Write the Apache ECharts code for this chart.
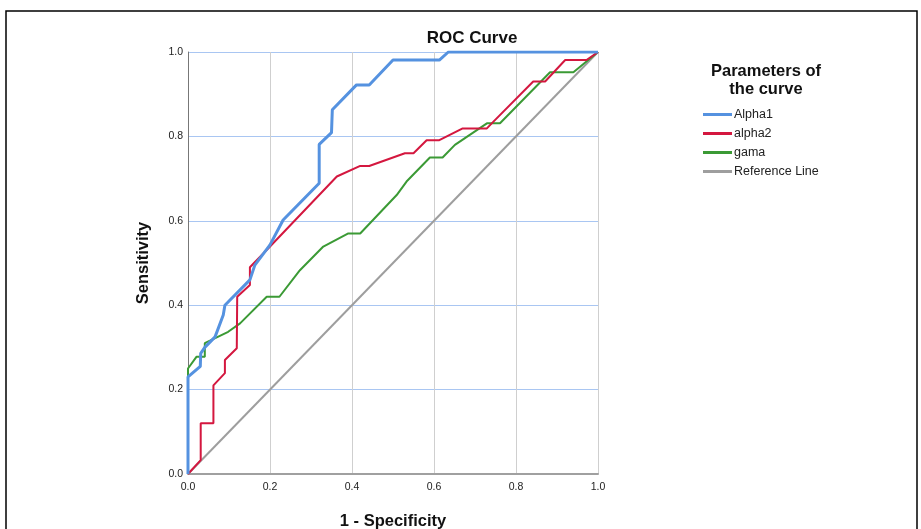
<!DOCTYPE html>
<html>
<head>
<meta charset="utf-8">
<script src="https://cdn.jsdelivr.net/npm/echarts@6/dist/echarts.min.js"></script>
<style>html,body{margin:0;padding:0;background:#fff;overflow:hidden;}#c{width:921px;height:529px;}</style>
</head>
<body>
<div id="c"></div>
<script>
const seriesNames = ['Alpha1', 'alpha2', 'gama', 'Reference Line'];
const alpha1 = [[0,0],[0,0.23],[0.03,0.255],[0.031,0.286],[0.041,0.30],[0.066,0.325],[0.086,0.377],[0.09,0.40],[0.151,0.46],[0.163,0.495],[0.2,0.543],[0.232,0.602],[0.32,0.689],[0.32,0.781],[0.35,0.809],[0.352,0.863],[0.411,0.922],[0.442,0.922],[0.50,0.981],[0.613,0.981],[0.635,1.0],[1,1]];
const alpha2 = [[0,0],[0.031,0.033],[0.031,0.12],[0.062,0.12],[0.062,0.21],[0.09,0.239],[0.09,0.27],[0.119,0.298],[0.12,0.42],[0.151,0.448],[0.151,0.49],[0.196,0.535],[0.363,0.705],[0.42,0.73],[0.442,0.73],[0.529,0.76],[0.55,0.76],[0.582,0.791],[0.613,0.791],[0.67,0.819],[0.729,0.819],[0.745,0.835],[0.842,0.93],[0.871,0.93],[0.92,0.981],[0.972,0.981],[1,1]];
const gama = [[0,0],[0,0.25],[0.021,0.278],[0.041,0.278],[0.041,0.31],[0.098,0.337],[0.127,0.357],[0.192,0.42],[0.223,0.42],[0.273,0.483],[0.33,0.539],[0.391,0.57],[0.42,0.57],[0.509,0.661],[0.533,0.693],[0.59,0.75],[0.621,0.75],[0.651,0.78],[0.729,0.831],[0.761,0.831],[0.883,0.952],[0.94,0.952],[1,1]];
const refLine = [[0,0],[1,1]];
const tickLabels = ['0.0','0.2','0.4','0.6','0.8','1.0'];

const colors = ['#5592e0', '#d4173f', '#3b9a35', '#9e9e9e'];
const widths = [3, 2, 2, 2];
const datasets = [alpha1, alpha2, gama, refLine];
const FONT = 'Liberation Sans, Arial, sans-serif';

const chart = echarts.init(document.getElementById('c'));
chart.setOption({
  animation: false,
  backgroundColor: '#fff',
  graphic: [
    {type: 'rect', shape: {x: 6, y: 11, width: 911, height: 540},
     style: {fill: 'none', stroke: '#000', lineWidth: 1.5}, silent: true},
    {type: 'text', x: 472, y: 38, silent: true,
     style: {text: 'ROC Curve', x: 0, y: 0, textAlign: 'center', textVerticalAlign: 'middle',
       font: 'bold 17px ' + FONT, fill: '#111'}},
    {type: 'text', x: 766, y: 80, silent: true,
     style: {text: 'Parameters of\nthe curve', textAlign: 'center', textVerticalAlign: 'middle',
       font: 'bold 16.5px ' + FONT, lineHeight: 18, fill: '#111'}}
  ],
  legend: {
    orient: 'vertical', left: 698, top: 103, itemGap: 6,
    itemWidth: 29, itemHeight: 14,
    data: seriesNames.map((n, i) => ({name: n, icon: 'path://M0,6 L29,6 L29,9 L0,9 Z'})),
    textStyle: {fontFamily: FONT, fontSize: 12.5, color: '#222', padding: [0,0,0,-3]}
  },
  grid: {left: 188, right: 323, top: 52, bottom: 55, containLabel: false, outerBoundsMode: 'none'},
  xAxis: {
    type: 'value', min: 0, max: 1, interval: 0.2,
    name: '1 - Specificity', nameLocation: 'middle', nameGap: 39,
    nameTextStyle: {fontFamily: FONT, fontSize: 16.5, fontWeight: 'bold', color: '#111'},
    axisLine: {show: true, lineStyle: {color: '#a0a0a0', width: 2}},
    axisTick: {show: false},
    axisLabel: {fontFamily: FONT, fontSize: 10.5, color: '#222', margin: 8,
      formatter: v => tickLabels[Math.round(v * 5)]},
    splitLine: {show: true, lineStyle: {color: '#cfcfcf', width: 1}}
  },
  yAxis: {
    type: 'value', min: 0, max: 1, interval: 0.2,
    name: 'Sensitivity', nameLocation: 'middle', nameGap: 36,
    nameTextStyle: {fontFamily: FONT, fontSize: 16.5, fontWeight: 'bold', color: '#111'},
    axisLine: {show: true, lineStyle: {color: '#777', width: 1}},
    axisTick: {show: false},
    axisLabel: {fontFamily: FONT, fontSize: 10.5, color: '#222', margin: 5,
      formatter: v => tickLabels[Math.round(v * 5)]},
    splitLine: {show: true, lineStyle: {color: '#a9c6f2', width: 1}}
  },
  series: seriesNames.map((n, i) => ({
    name: n, type: 'line', data: datasets[i], showSymbol: false, symbol: 'none',
    z: [5, 4, 3, 2][i],
    lineStyle: {color: colors[i], width: widths[i]},
    itemStyle: {color: colors[i]}
  }))
});
</script>
</body>
</html>
